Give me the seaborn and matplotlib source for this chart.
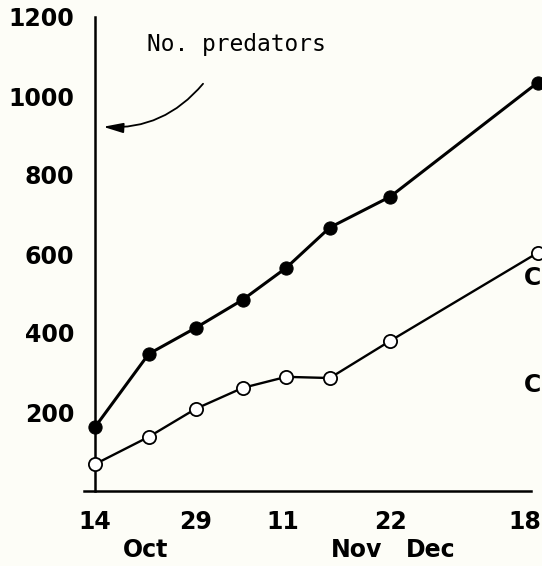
import matplotlib
matplotlib.use("Agg")
import matplotlib.pyplot as plt
import matplotlib.transforms as mtransforms
import seaborn as sns
import pandas as pd

# Sampling dates as days after 14 October
days = [0, 8, 15, 22, 28.5, 35, 44, 66]
predators_total = [162, 347, 413, 484, 565, 667, 745, 1034]
predators_open = [68, 137, 208, 261, 289, 286, 380, 603]

# Axis ticks (days after 14 October) and their labels
tick_days = [0, 8, 15, 22, 28, 35, 44, 54, 65]
tick_labels = ["14", "", "29", "", "11", "", "22", "", "18"]
y_ticks = [200, 400, 600, 800, 1000, 1200]

months = ["Oct", "Nov", "Dec"]
month_days = [7.5, 39.0, 50.0]

annotation_text = "No. predators"
edge_labels = ["C", "C"]
edge_label_values = [538, 268]

bg = "#fdfdf7"
sns.set_theme(style="white")
plt.rcParams["font.family"] = ["DejaVu Sans"]

fig = plt.figure(figsize=(5.42, 5.66), dpi=100, facecolor=bg)
ax = fig.add_axes([84 / 542, (566 - 491) / 566, (531 - 84) / 542, 474 / 566])
ax.set_facecolor(bg)

df = pd.DataFrame({"day": days, "total": predators_total, "open": predators_open})

sns.lineplot(data=df, x="day", y="total", ax=ax, color="black", linewidth=2.2,
             marker="o", markersize=9.5, markerfacecolor="black",
             markeredgecolor="black", clip_on=False, zorder=3)
sns.lineplot(data=df, x="day", y="open", ax=ax, color="black", linewidth=1.7,
             marker="o", markersize=9.5, markerfacecolor="white",
             markeredgecolor="black", markeredgewidth=1.3, clip_on=False, zorder=3)

ax.set_xlim(-1.65, 65)
ax.set_ylim(0, 1200)
ax.set_xlabel("")
ax.set_ylabel("")

for side in ("top", "right"):
    ax.spines[side].set_visible(False)
ax.spines["left"].set_position(("data", 0))
for side in ("left", "bottom"):
    ax.spines[side].set_color("black")
    ax.spines[side].set_linewidth(1.8)

x_len, x_pad = 7, 7
ax.set_xticks(tick_days)
ax.set_xticklabels(tick_labels[:-1] + [""])
ax.set_yticks(y_ticks)
ax.tick_params(axis="x", which="major", direction="out", length=x_len,
               width=1.6, color="black", labelcolor="black", pad=x_pad)
ax.tick_params(axis="y", which="major", direction="out", length=8,
               width=1.6, color="black", labelcolor="black", pad=7)
for lbl in ax.get_xticklabels() + ax.get_yticklabels():
    lbl.set_fontsize(17)
    lbl.set_fontweight("bold")

# Last day label sits against the right edge
last_off = mtransforms.ScaledTranslation(10 / 100, -(x_len + x_pad) / 72,
                                         fig.dpi_scale_trans)
ax.text(tick_days[-1], 0, tick_labels[-1],
        transform=ax.get_xaxis_transform() + last_off,
        ha="right", va="top", fontsize=17, fontweight="bold", color="black")

# Month names below the day numbers
trans = mtransforms.blended_transform_factory(ax.transData, fig.transFigure)
for name, d in zip(months, month_days):
    ax.text(d, (566 - 550) / 566, name, transform=trans, ha="center",
            va="center", fontsize=17, fontweight="bold", color="black")

# Labels at the right-hand edge
edge_trans = mtransforms.blended_transform_factory(fig.transFigure, ax.transData)
for txt, v in zip(edge_labels, edge_label_values):
    ax.text(541 / 542, v, txt, transform=edge_trans, ha="right", va="center",
            fontsize=17, fontweight="bold", color="black")

# Curved arrow pointing to the y axis
ax.text(7.75, 1130, annotation_text, fontsize=16.5, family="DejaVu Sans Mono",
        ha="left", va="center", color="black")
ax.annotate("", xy=(1.2, 922), xytext=(16.1, 1031),
            arrowprops=dict(arrowstyle="-|>,head_length=1.0,head_width=0.25",
                            connectionstyle="arc3,rad=-0.25", color="black",
                            lw=1.3, shrinkA=0, shrinkB=0))

fig.savefig("out.png", dpi=100, facecolor=bg)
